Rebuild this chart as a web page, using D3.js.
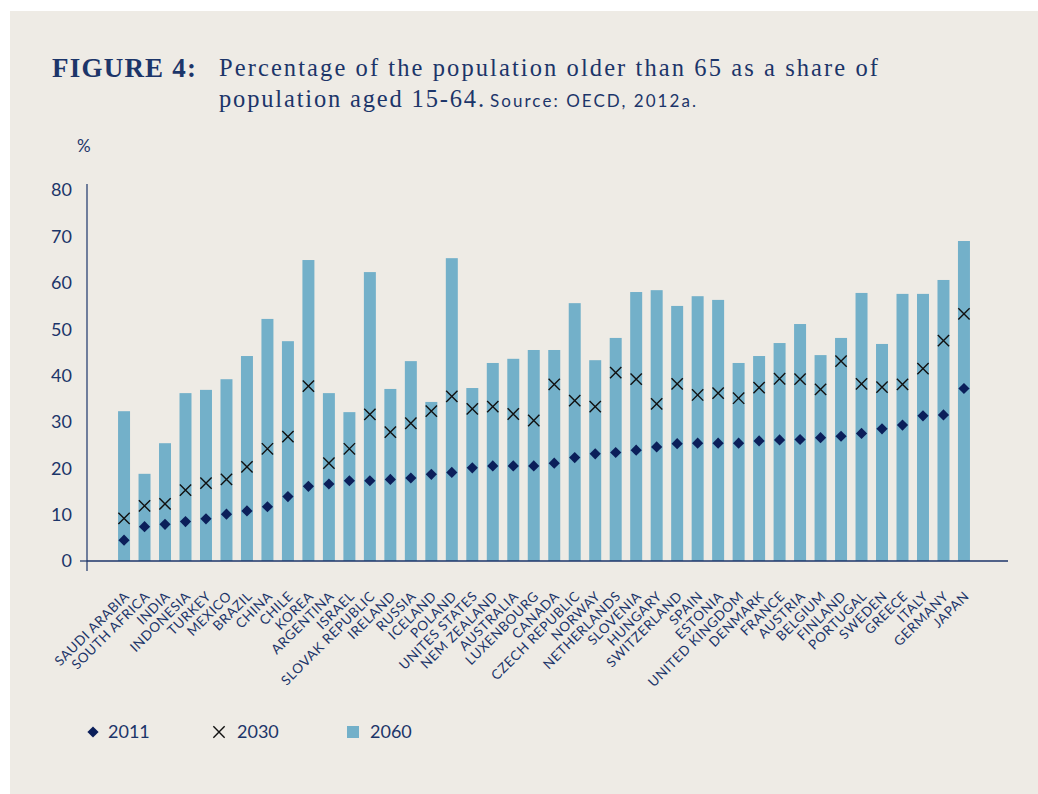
<!DOCTYPE html>
<html>
<head>
<meta charset="utf-8">
<script src="https://cdn.jsdelivr.net/npm/d3@7"></script>
<style>
  body { margin: 0; background: #ffffff; }
  svg { display: block; }
</style>
</head>
<body>
<script>
// data
var countries = ["SAUDI ARABIA", "SOUTH AFRICA", "INDIA", "INDONESIA", "TURKEY", "MEXICO", "BRAZIL",
  "CHINA", "CHILE", "KOREA", "ARGENTINA", "ISRAEL", "SLOVAK REPUBLIC", "IRELAND", "RUSSIA", "ICELAND",
  "POLAND", "UNITES STATES", "NEM ZEALAND", "AUSTRALIA", "LUXENBOURG", "CANADA", "CZECH REPUBLIC",
  "NORWAY", "NETHERLANDS", "SLOVENIA", "HUNGARY", "SWITZERLAND", "SPAIN", "ESTONIA", "UNITED KINGDOM",
  "DENMARK", "FRANCE", "AUSTRIA", "BELGIUM", "FINLAND", "PORTUGAL", "SWEDEN", "GREECE", "ITALY",
  "GERMANY", "JAPAN"];

var v2011 = [4.5, 7.4, 7.9, 8.5, 9.1, 10.1, 10.8, 11.7, 13.9, 16.1, 16.6, 17.3, 17.3, 17.6, 17.9, 18.7,
  19.1, 20.1, 20.5, 20.5, 20.5, 21.1, 22.3, 23.1, 23.4, 23.9, 24.6, 25.3, 25.4, 25.4, 25.4,
  25.9, 26.1, 26.2, 26.6, 26.9, 27.5, 28.5, 29.3, 31.3, 31.5, 37.2];

var v2030 = [9.2, 11.9, 12.3, 15.3, 16.8, 17.6, 20.3, 24.2, 26.8, 37.7, 21.1, 24.2, 31.6, 27.8, 29.7, 32.3,
  35.5, 32.8, 33.3, 31.7, 30.3, 38.1, 34.6, 33.3, 40.6, 39.2, 33.9, 38.2, 35.8, 36.2, 35.1,
  37.4, 39.3, 39.2, 37.0, 43.1, 38.2, 37.5, 38.1, 41.5, 47.5, 53.3];

var v2060 = [32.3, 18.8, 25.4, 36.2, 36.9, 39.2, 44.2, 52.2, 47.4, 64.9, 36.2, 32.1, 62.3, 37.1, 43.1, 34.3,
  65.3, 37.3, 42.7, 43.6, 45.5, 45.5, 55.6, 43.3, 48.1, 58.0, 58.4, 55.0, 57.1, 56.3, 42.7,
  44.2, 47.0, 51.1, 44.4, 48.1, 57.8, 46.8, 57.6, 57.6, 60.6, 69.0];

var yTicks = [0, 10, 20, 30, 40, 50, 60, 70, 80];
var legendItems = ["2011", "2030", "2060"];

var W = 1038, H = 794;
var navy = "#1c3569", barColor = "#73b0c9", diamondColor = "#0b1f5a";
var sans = "Lato, 'Open Sans', sans-serif";
var serif = "'Liberation Serif', 'DejaVu Serif', serif";

var svg = d3.select("body").append("svg")
    .attr("width", W)
    .attr("height", H);

svg.append("rect")
    .attr("x", 10).attr("y", 11)
    .attr("width", W - 10).attr("height", H - 11)
    .attr("fill", "#eeebe5");

// title
svg.append("text")
    .attr("x", 52).attr("y", 77)
    .attr("font-family", serif).attr("font-weight", "bold")
    .attr("font-size", 27).attr("fill", navy)
    .attr("textLength", 144).attr("lengthAdjust", "spacing")
    .text("FIGURE 4:");

svg.append("text")
    .attr("x", 219).attr("y", 76)
    .attr("font-family", serif).attr("font-size", 24.5).attr("fill", navy)
    .attr("textLength", 659).attr("lengthAdjust", "spacing")
    .text("Percentage of the population older than 65 as a share of");

svg.append("text")
    .attr("x", 219).attr("y", 107)
    .attr("font-family", serif).attr("font-size", 24.5).attr("fill", navy)
    .attr("textLength", 265).attr("lengthAdjust", "spacing")
    .text("population aged 15-64.");

svg.append("text")
    .attr("x", 490).attr("y", 107)
    .attr("font-family", sans)
    .attr("font-size", 17).attr("fill", navy)
    .attr("textLength", 206).attr("lengthAdjust", "spacing")
    .text("Source: OECD, 2012a.");

var x = d3.scaleBand()
    .domain(countries)
    .range([113.8, 974.2])
    .paddingInner(0.415)
    .paddingOuter(0.2075);

var y = d3.scaleLinear()
    .domain([0, 80])
    .range([561, 190]);

// y axis
var yAxis = svg.append("g").attr("transform", "translate(87,0)");
yAxis.append("line")
    .attr("y1", y(80) - 6).attr("y2", y(0) + 10)
    .attr("stroke", navy).attr("stroke-width", 1.2);
yAxis.append("line")
    .attr("x1", -7).attr("x2", 0)
    .attr("y1", y(0)).attr("y2", y(0))
    .attr("stroke", navy).attr("stroke-width", 1.2);
yAxis.selectAll("text.tick")
    .data(yTicks)
    .enter().append("text")
    .attr("class", "tick")
    .attr("x", -15)
    .attr("y", function(d) { return y(d); })
    .attr("dy", "0.36em")
    .attr("text-anchor", "end")
    .attr("font-family", sans).attr("font-size", 18).attr("fill", navy)
    .text(function(d) { return d; });

svg.append("text")
    .attr("x", 77).attr("y", 152)
    .attr("font-family", sans).attr("font-size", 17).attr("fill", navy)
    .text("%");

// bars 2060
svg.selectAll("rect.bar")
    .data(countries)
    .enter().append("rect")
    .attr("class", "bar")
    .attr("x", function(d) { return x(d); })
    .attr("width", x.bandwidth())
    .attr("y", function(d, i) { return y(v2060[i]); })
    .attr("height", function(d, i) { return y(0) - y(v2060[i]); })
    .attr("fill", barColor);

// x axis line
svg.append("line")
    .attr("x1", 87).attr("x2", 1008)
    .attr("y1", y(0)).attr("y2", y(0))
    .attr("stroke", navy).attr("stroke-width", 1.5);

// 2030 crosses
var cross = d3.symbol().type(d3.symbolX).size(85);
svg.selectAll("path.x2030")
    .data(countries)
    .enter().append("path")
    .attr("class", "x2030")
    .attr("d", cross)
    .attr("transform", function(d, i) {
      return "translate(" + (x(d) + x.bandwidth() / 2) + "," + y(v2030[i]) + ")";
    })
    .attr("fill", "none")
    .attr("stroke", "#111")
    .attr("stroke-width", 1.4);

// 2011 diamonds
var diamond = d3.symbol().type(d3.symbolDiamond2).size(80);
svg.selectAll("path.d2011")
    .data(countries)
    .enter().append("path")
    .attr("class", "d2011")
    .attr("d", diamond)
    .attr("transform", function(d, i) {
      return "translate(" + (x(d) + x.bandwidth() / 2) + "," + y(v2011[i]) + ")";
    })
    .attr("fill", diamondColor);

// category labels
svg.selectAll("text.cat")
    .data(countries)
    .enter().append("text")
    .attr("class", "cat")
    .attr("text-anchor", "end")
    .attr("transform", function(d) {
      return "translate(" + (x(d) + x.bandwidth() / 2 + 6) + ",597) rotate(-45)";
    })
    .attr("font-family", sans).attr("font-size", 13.5)
    .attr("letter-spacing", 0.6)
    .attr("fill", navy)
    .text(function(d) { return d; });

// legend
var legend = svg.append("g").attr("transform", "translate(0,732)");
var legendX = [93, 219, 353];
var legendTextX = [108, 237, 370];
legend.append("path")
    .attr("d", diamond)
    .attr("transform", "translate(" + legendX[0] + ",0)")
    .attr("fill", diamondColor);
legend.append("path")
    .attr("d", cross)
    .attr("transform", "translate(" + legendX[1] + ",0)")
    .attr("fill", "none").attr("stroke", "#111").attr("stroke-width", 1.4);
legend.append("rect")
    .attr("x", legendX[2] - 6).attr("y", -6)
    .attr("width", 12).attr("height", 12)
    .attr("fill", barColor);
legend.selectAll("text")
    .data(legendItems)
    .enter().append("text")
    .attr("x", function(d, i) { return legendTextX[i]; })
    .attr("dy", "0.36em")
    .attr("font-family", sans).attr("font-size", 18).attr("fill", navy)
    .text(function(d) { return d; });
</script>
</body>
</html>
